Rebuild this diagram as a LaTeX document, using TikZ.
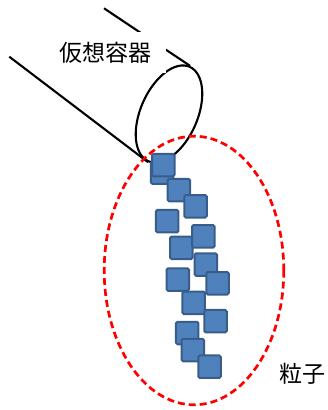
\documentclass[tikz,border=0pt]{standalone}
\usepackage{fontspec}
\newfontfamily\jpfont{Noto Sans CJK JP}
\usetikzlibrary{shapes.geometric}
\definecolor{sqfill}{HTML}{4F81BD}
\definecolor{sqdraw}{HTML}{385D8A}
\begin{document}
\begin{tikzpicture}[x=1bp,y=-1bp,
  particle/.style={draw=sqdraw, fill=sqfill, line width=2bp, minimum size=22.5bp, inner sep=0pt, rounded corners=1.5bp},
  cylline/.style={line width=2.1bp, black},
  label/.style={font=\jpfont\fontsize{23bp}{27bp}\selectfont, inner sep=0pt}]
\useasboundingbox (0,0) rectangle (328,410);
% virtual container (cylinder)
\node[ellipse, draw, line width=2.1bp, minimum width=103bp, minimum height=57bp, inner sep=0pt, rotate=66.4] (cyl) at (169,114) {};
\coordinate (lA) at (9.3,56.7);
\coordinate (uA) at (104,8.3);
\draw[cylline] (lA) -- (cyl.west);
\draw[cylline] (uA) -- (cyl.east);
\node[label, fill=white, minimum width=122bp, minimum height=41bp] (vc) at (105,52.5) {仮想容器};
% group ellipse
\node[ellipse, draw=red, dash pattern=on 7bp off 4bp, line width=2.7bp, minimum width=179.6bp, minimum height=268.6bp, inner sep=0pt] (grp) at (194,270.5) {};
% particles
\node[particle] (pB) at (162.2,172.7) {};
\node[particle] (pA) at (163.3,165) {};
\node[particle] (pC) at (178.8,190) {};
\node[particle] (pD) at (195.5,206.3) {};
\node[particle] (pE) at (167.2,221.2) {};
\node[particle] (pG) at (181.3,247.8) {};
\node[particle] (pF) at (203.3,236.3) {};
\node[particle] (pH) at (205.8,264.5) {};
\node[particle] (pI) at (177.8,279.5) {};
\node[particle] (pJ) at (217.5,283.3) {};
\node[particle] (pK) at (193.7,302.8) {};
\node[particle] (pL) at (215.5,321.2) {};
\node[particle] (pM) at (187.2,333) {};
\node[particle] (pN) at (192.8,350) {};
\node[particle] (pO) at (209.5,366.7) {};
\node[label] (lbl) at (302.5,374) {粒子};
\end{tikzpicture}
\end{document}
